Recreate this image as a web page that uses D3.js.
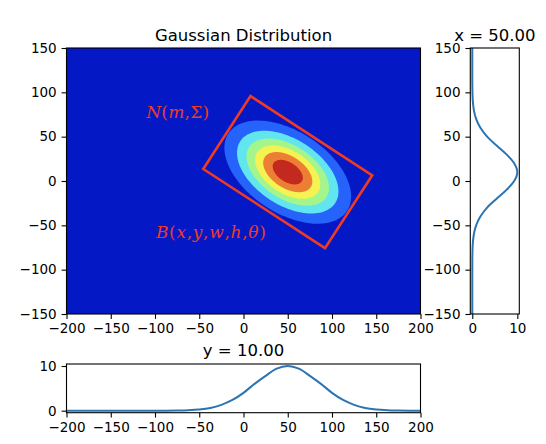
<!DOCTYPE html>
<html>
<head>
<meta charset="utf-8">
<script src="https://cdn.jsdelivr.net/npm/d3@7"></script>
<style>
  body { margin: 0; background: #fff; }
  text { font-family: "DejaVu Sans", sans-serif; }
</style>
</head>
<body>
<svg id="chart" width="546" height="444"></svg>
<script>
// tick values
var mainXTicks = [-200, -150, -100, -50, 0, 50, 100, 150, 200];
var mainYTicks = [-150, -100, -50, 0, 50, 100, 150];
var sliceTicks = [0, 10];

// N(m, Sigma) and its rotated box B(x, y, w, h, theta)
var gaussMean = [50, 10];
var gaussAngle = -33;        // degrees
var boxSize = [164, 98];     // w, h

// filled contour bands, outermost first (semi axes in data units)
var bandLevels = [1.5, 3, 4.5, 6, 7.5, 9];
var bandMajor = [80, 64, 52, 41, 31, 19];
var bandMinor = [46, 37, 30, 24, 18, 11];
var bandColors = ["#0518c5", "#2563fb", "#62e6ee", "#a4f58c", "#f5f352", "#ed7f34", "#c3291e"];

// slice along y at x = 50
var sliceY = [-150, -140, -130, -120, -110, -100, -90, -80, -70, -60, -50, -40, -30, -20, -10,
              0, 10, 20, 30, 40, 50, 60, 70, 80, 90, 100, 110, 120, 130, 140, 150];
var sliceYVals = [0, 0, 0, 0, 0, 0.01, 0.01, 0.04, 0.12, 0.35, 0.85, 1.8, 3.3, 5.4, 7.6,
                  9.3, 10, 9.3, 7.6, 5.4, 3.3, 1.8, 0.85, 0.35, 0.12, 0.04, 0.01, 0, 0, 0, 0];

// slice along x at y = 10
var sliceX = [-200, -187.5, -175, -162.5, -150, -137.5, -125, -112.5, -100, -87.5, -75, -62.5,
              -50, -37.5, -25, -12.5, 0, 12.5, 25, 37.5, 50, 62.5, 75, 87.5, 100, 112.5, 125,
              137.5, 150, 162.5, 175, 187.5, 200];
var sliceXVals = [0, 0, 0, 0, 0, 0, 0, 0, 0, 0, 0.03, 0.1,
                  0.26, 0.6, 1.3, 2.4, 4.0, 6.0, 7.8, 9.4, 10, 9.4, 7.8, 6.0, 4.0, 2.4, 1.3,
                  0.6, 0.26, 0.1, 0.03, 0, 0];

var svg = d3.select("#chart");
var fmt = d3.format("d");
var tickLen = 4.9, tickPad = 4.9;
var red = "#ee3b24", lineBlue = "#2a74b4";

// scales
var x = d3.scaleLinear().domain([-200, 200]).range([66.5, 420.5]);
var y = d3.scaleLinear().domain([-150, 150]).range([314, 48]);
var sx = d3.scaleLinear().domain([-0.44, 10.44]).range([470.3, 519.3]);
var by = d3.scaleLinear().domain([-0.45, 10.45]).range([412.7, 364]);

function styleAxis(g) {
  g.select(".domain").remove();
  g.selectAll("line").attr("stroke", "#000").attr("stroke-width", 1.1);
  g.selectAll("text").attr("fill", "#000").style("font-size", "13.5px")
    .style("font-family", "DejaVu Sans, sans-serif");
}

function frame(x0, x1, y0, y1) {
  svg.append("rect").attr("x", x0).attr("y", y1)
    .attr("width", x1 - x0).attr("height", y0 - y1)
    .attr("fill", "none").attr("stroke", "#000").attr("stroke-width", 1.1);
}

// rotated point around the mean, in data units
function rot(u, v) {
  var t = gaussAngle * Math.PI / 180;
  return [gaussMean[0] + u * Math.cos(t) - v * Math.sin(t),
          gaussMean[1] + u * Math.sin(t) + v * Math.cos(t)];
}

function ellipse(a, b) {
  return d3.range(0, 361, 3).map(function(d) {
    var r = d * Math.PI / 180;
    return rot(a * Math.cos(r), b * Math.sin(r));
  });
}

var line = d3.line().x(function(d) { return x(d[0]); }).y(function(d) { return y(d[1]); });

// ---- main contour plot ----
svg.append("clipPath").attr("id", "mainClip").append("rect")
  .attr("x", x(-200)).attr("y", y(150)).attr("width", x(200) - x(-200)).attr("height", y(-150) - y(150));

var main = svg.append("g").attr("clip-path", "url(#mainClip)");
main.append("rect")
  .attr("x", x(-200)).attr("y", y(150))
  .attr("width", x(200) - x(-200)).attr("height", y(-150) - y(150))
  .attr("fill", bandColors[0]);

main.selectAll("path.band").data(bandLevels).enter().append("path")
  .attr("class", "band")
  .attr("d", function(d, i) { return line(ellipse(bandMajor[i], bandMinor[i])) + "Z"; })
  .attr("fill", function(d, i) { return bandColors[i + 1]; });

var hw = boxSize[0] / 2, hh = boxSize[1] / 2;
var boxCorners = [rot(-hw, -hh), rot(hw, -hh), rot(hw, hh), rot(-hw, hh)];
main.append("path")
  .attr("d", line(boxCorners) + "Z")
  .attr("fill", "none").attr("stroke", red).attr("stroke-width", 2.6)
  .attr("stroke-linejoin", "miter");

var nLabel = main.append("text").attr("x", x(-110)).attr("y", y(71))
  .attr("fill", red).style("font-family", "DejaVu Serif, serif").style("font-size", "17px")
  .attr("textLength", 63).attr("lengthAdjust", "spacing");
[["N", 1], ["(", 0], ["m", 1], [",", 0], ["\u03A3", 0], [")", 0]].forEach(function(p) {
  nLabel.append("tspan").text(p[0]).style("font-style", p[1] ? "italic" : "normal");
});

var bLabel = main.append("text").attr("x", x(-99)).attr("y", y(-64))
  .attr("fill", red).style("font-family", "DejaVu Serif, serif").style("font-size", "17px")
  .attr("textLength", 110).attr("lengthAdjust", "spacing");
[["B", 1], ["(", 0], ["x", 1], [",", 0], ["y", 1], [",", 0], ["w", 1], [",", 0],
 ["h", 1], [",", 0], ["\u03B8", 1], [")", 0]].forEach(function(p) {
  bLabel.append("tspan").text(p[0]).style("font-style", p[1] ? "italic" : "normal");
});

frame(x(-200), x(200), y(-150), y(150));

svg.append("g").attr("transform", "translate(0," + y(-150) + ")")
  .call(d3.axisBottom(x).tickValues(mainXTicks).tickFormat(fmt).tickSize(tickLen).tickPadding(tickPad))
  .call(styleAxis);
svg.append("g").attr("transform", "translate(" + x(-200) + ",0)")
  .call(d3.axisLeft(y).tickValues(mainYTicks).tickFormat(fmt).tickSize(tickLen).tickPadding(tickPad))
  .call(styleAxis);

svg.append("text").attr("x", (x(-200) + x(200)) / 2).attr("y", 40.5)
  .attr("text-anchor", "middle").style("font-size", "16.5px").text("Gaussian Distribution");

// ---- right slice (x = 50) ----
svg.append("path")
  .datum(sliceY.map(function(d, i) { return [sliceYVals[i], d]; }))
  .attr("d", d3.line().curve(d3.curveMonotoneY)
    .x(function(d) { return sx(d[0]); }).y(function(d) { return y(d[1]); }))
  .attr("fill", "none").attr("stroke", lineBlue).attr("stroke-width", 2);

frame(sx(-0.44), sx(10.44), y(-150), y(150));
svg.append("g").attr("transform", "translate(0," + y(-150) + ")")
  .call(d3.axisBottom(sx).tickValues(sliceTicks).tickFormat(fmt).tickSize(tickLen).tickPadding(tickPad))
  .call(styleAxis);
svg.append("g").attr("transform", "translate(" + sx(-0.44) + ",0)")
  .call(d3.axisLeft(y).tickValues(mainYTicks).tickFormat(fmt).tickSize(tickLen).tickPadding(tickPad))
  .call(styleAxis);
svg.append("text").attr("x", (sx(-0.44) + sx(10.44)) / 2).attr("y", 40.5)
  .attr("text-anchor", "middle").style("font-size", "16.5px").text("x = 50.00");

// ---- bottom slice (y = 10) ----
svg.append("path")
  .datum(sliceX.map(function(d, i) { return [d, sliceXVals[i]]; }))
  .attr("d", d3.line().curve(d3.curveMonotoneX)
    .x(function(d) { return x(d[0]); }).y(function(d) { return by(d[1]); }))
  .attr("fill", "none").attr("stroke", lineBlue).attr("stroke-width", 2);

frame(x(-200), x(200), by(-0.45), by(10.45));
svg.append("g").attr("transform", "translate(0," + by(-0.45) + ")")
  .call(d3.axisBottom(x).tickValues(mainXTicks).tickFormat(fmt).tickSize(tickLen).tickPadding(tickPad))
  .call(styleAxis);
svg.append("g").attr("transform", "translate(" + x(-200) + ",0)")
  .call(d3.axisLeft(by).tickValues(sliceTicks).tickFormat(fmt).tickSize(tickLen).tickPadding(tickPad))
  .call(styleAxis);
svg.append("text").attr("x", (x(-200) + x(200)) / 2).attr("y", 355.5)
  .attr("text-anchor", "middle").style("font-size", "16.5px").text("y = 10.00");
</script>
</body>
</html>
